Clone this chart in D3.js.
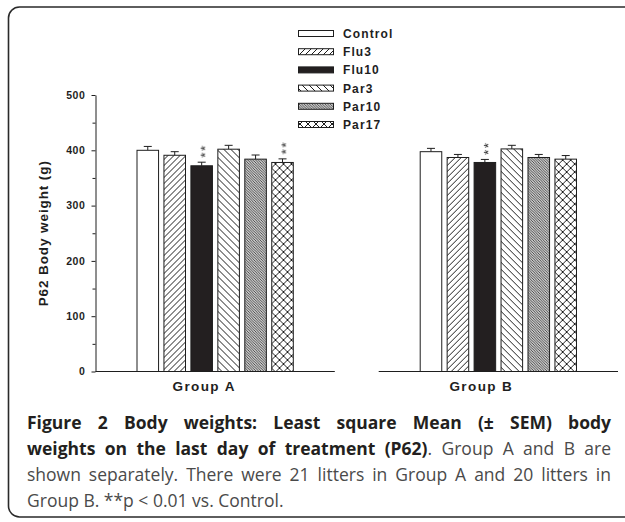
<!DOCTYPE html>
<html>
<head>
<meta charset="utf-8">
<script src="https://cdn.jsdelivr.net/npm/d3@7"></script>
<style>
  html, body { margin: 0; padding: 0; background: #fff; }
  svg { display: block; }
</style>
</head>
<body>
<svg id="chart" width="625" height="522"></svg>
<script>
// ---------- data ----------
const groups = ["Group A", "Group B"];
const series = ["Control", "Flu3", "Flu10", "Par3", "Par10", "Par17"];
const meansA = [400, 391, 372, 402, 384, 378];
const semA   = [7, 6.5, 6.5, 7, 7.5, 6.5];
const meansB = [397.5, 387, 378, 402.5, 387, 384];
const semB   = [6, 5.5, 5.5, 6.5, 5.5, 6.5];
const sigA   = [false, false, true, false, false, true];
const sigB   = [false, false, true, false, false, false];
const yTicks = [0, 100, 200, 300, 400, 500];
const yMinorTicks = [50, 150, 250, 350, 450];
const yLabel = "P62 Body weight (g)";
const captionLines = [
  [{ t: "Figure 2 Body weights: Least square Mean (± SEM) body", b: true }],
  [{ t: "weights on the last day of treatment (P62)", b: true }, { t: ". Group A and B are", b: false }],
  [{ t: "shown separately. There were 21 litters in Group A and 20 litters in", b: false }],
  [{ t: "Group B. **p < 0.01 vs. Control.", b: false }]
];
const captionJustify = [true, true, true, false];

const groupData = [
  { g: groups[0], means: meansA, sem: semA, sig: sigA },
  { g: groups[1], means: meansB, sem: semB, sig: sigB }
];

// ---------- setup ----------
const svg = d3.select("#chart");
svg.append("rect").attr("width", 625).attr("height", 522).attr("fill", "#fff");

// outer rounded frame (right side runs off the picture)
svg.append("rect")
  .attr("x", 8.5).attr("y", 7).attr("width", 640).attr("height", 510)
  .attr("rx", 11).attr("ry", 11)
  .attr("fill", "none").attr("stroke", "#2a2a2a").attr("stroke-width", 1.6);

const chartFont = "'Liberation Sans', Arial, sans-serif";
const ink = "#1e1e1e";

// patterns + a neutral filter (forces grayscale text antialiasing)
const defs = svg.append("defs");
const flt = defs.append("filter").attr("id", "gray").attr("x", "-50%").attr("y", "-50%")
  .attr("width", "200%").attr("height", "200%");
flt.append("feColorMatrix").attr("type", "saturate").attr("values", 0);

function linePattern(id, size, dir, sw, color) {
  const p = defs.append("pattern").attr("id", id)
    .attr("patternUnits", "userSpaceOnUse").attr("width", size).attr("height", size);
  p.append("rect").attr("width", size).attr("height", size).attr("fill", "#fff");
  const s = size;
  let d;
  if (dir === "/") d = `M${-s / 2},${s / 2} L${s / 2},${-s / 2} M0,${s} L${s},0 M${s / 2},${1.5 * s} L${1.5 * s},${s / 2}`;
  else if (dir === "\\") d = `M${-s / 2},${s / 2} L${s / 2},${1.5 * s} M0,0 L${s},${s} M${s / 2},${-s / 2} L${1.5 * s},${s / 2}`;
  else d = `M0,${s} L${s},0 M${-s / 2},${s / 2} L${s / 2},${-s / 2} M${s / 2},${1.5 * s} L${1.5 * s},${s / 2} M0,0 L${s},${s} M${-s / 2},${s / 2} L${s / 2},${1.5 * s} M${s / 2},${-s / 2} L${1.5 * s},${s / 2}`;
  p.append("path").attr("d", d).attr("stroke", color).attr("stroke-width", sw).attr("fill", "none");
  return `url(#${id})`;
}
const fills = {
  Control: "#fff",
  Flu3: linePattern("pFlu3", 6, "/", 1, ink),
  Flu10: "#231f20",
  Par3: linePattern("pPar3", 7, "\\", 1, ink),
  Par10: linePattern("pPar10", 2.6, "\\", 0.9, "#333"),
  Par17: linePattern("pPar17", 8, "x", 1, ink)
};

// ---------- scales ----------
const y = d3.scaleLinear().domain([0, 500]).range([371.5, 95]);
const x0 = d3.scaleBand().domain(groups).range([95.5, 618]).paddingInner(0.155);
const x1 = d3.scaleBand().domain(series).range([0, x0.bandwidth()])
  .paddingInner(0.2).paddingOuter(1.54);

// ---------- y axis ----------
const yAxis = d3.axisLeft(y).tickValues(yTicks).tickSize(4).tickSizeOuter(0).tickPadding(6);
const gy = svg.append("g").attr("transform", `translate(${x0.range()[0]},0)`).call(yAxis);
gy.selectAll("text").attr("font-family", chartFont).attr("font-weight", "bold")
  .attr("font-size", 10.5).attr("letter-spacing", 0.6).attr("fill", ink);
gy.selectAll("line, path").attr("stroke", ink).attr("stroke-width", 1);
const gyMinor = svg.append("g").attr("transform", `translate(${x0.range()[0]},0)`)
  .call(d3.axisLeft(y).tickValues(yMinorTicks).tickSize(3).tickSizeOuter(0).tickFormat(""));
gyMinor.select(".domain").remove();
gyMinor.selectAll("line").attr("stroke", ink);

svg.append("text")
  .attr("transform", `translate(48,${(y(0) + y(500)) / 2}) rotate(-90)`)
  .attr("text-anchor", "middle")
  .attr("font-family", chartFont).attr("font-weight", "bold").attr("font-size", 13.5)
  .attr("letter-spacing", 0.9).attr("fill", ink)
  .text(yLabel);

// ---------- x axis segments (broken baseline) ----------
const labelShift = { "Group A": -11, "Group B": -17 };
groupData.forEach(gd => {
  const gx = x0(gd.g);
  svg.append("line")
    .attr("x1", gx).attr("x2", gx + x0.bandwidth())
    .attr("y1", y(0)).attr("y2", y(0))
    .attr("stroke", ink).attr("stroke-width", 1.2);
  svg.append("text")
    .attr("x", gx + x0.bandwidth() / 2 + labelShift[gd.g]).attr("y", 391)
    .attr("text-anchor", "middle")
    .attr("font-family", chartFont).attr("font-weight", "bold").attr("font-size", 13.5)
    .attr("letter-spacing", 1.4).attr("fill", ink)
    .text(gd.g);
});

// ---------- bars ----------
groupData.forEach(gd => {
  const g = svg.append("g").attr("transform", `translate(${x0(gd.g)},0)`);
  const rows = series.map((s, i) => ({ s, v: gd.means[i], e: gd.sem[i], sig: gd.sig[i] }));
  rows.forEach(r => {
    const cx = x1(r.s) + x1.bandwidth() / 2;
    g.append("line").attr("x1", cx).attr("x2", cx)
      .attr("y1", y(r.v)).attr("y2", y(r.v + r.e))
      .attr("stroke", ink).attr("stroke-width", 1);
    g.append("line").attr("x1", cx - 4).attr("x2", cx + 4)
      .attr("y1", y(r.v + r.e)).attr("y2", y(r.v + r.e))
      .attr("stroke", ink).attr("stroke-width", 1);
    if (r.sig) {
      // "**" set vertically (rotated), reading upward from just above the cap
      g.append("text")
        .attr("filter", "url(#gray)")
        .attr("transform", `translate(${cx},${y(r.v + r.e) - 4.5}) rotate(-90)`)
        .attr("dy", "0.58em")
        .attr("font-family", chartFont).attr("font-size", 13.5)
        .attr("letter-spacing", 1.6)
        .attr("fill", "#222")
        .text("**");
    }
  });
  g.selectAll("rect.bar").data(rows).join("rect")
    .attr("class", "bar")
    .attr("x", d => x1(d.s)).attr("width", x1.bandwidth())
    .attr("y", d => y(d.v)).attr("height", d => y(0) - y(d.v))
    .attr("fill", d => fills[d.s])
    .attr("stroke", ink).attr("stroke-width", 1);
});

// ---------- legend ----------
const legY = d3.scalePoint().domain(series).range([33.5, 124.5]);
const leg = svg.append("g");
series.forEach(s => {
  leg.append("rect")
    .attr("x", 298.5).attr("y", legY(s) - 3).attr("width", 35).attr("height", 6)
    .attr("fill", fills[s]).attr("stroke", ink).attr("stroke-width", 1);
  leg.append("text")
    .attr("x", 343).attr("y", legY(s) + 4.5)
    .attr("font-family", chartFont).attr("font-weight", "bold").attr("font-size", 12)
    .attr("letter-spacing", 1.1).attr("fill", ink)
    .text(s);
});

// ---------- caption ----------
const capFont = "'Open Sans', 'Noto Sans', sans-serif";
const capLeft = 27, capRight = 611;
const capBase = [429, 455, 481, 507];
let capSize = 17.5;
const capNodes = captionLines.map((line, i) => {
  const t = svg.append("text").attr("x", capLeft).attr("y", capBase[i])
    .attr("font-family", capFont).attr("font-size", capSize);
  line.forEach(seg => {
    t.append("tspan").attr("font-weight", seg.b ? "bold" : "normal")
      .attr("fill", seg.b ? "#231f20" : "#4a4a4a").text(seg.t);
  });
  return t;
});
let maxW = d3.max(capNodes, n => n.node().getComputedTextLength());
if (maxW > capRight - capLeft) {
  capSize = capSize * (capRight - capLeft) / maxW * 0.995;
  capNodes.forEach(n => n.attr("font-size", capSize));
}
capNodes.forEach((n, i) => {
  if (!captionJustify[i]) return;
  const w = n.node().getComputedTextLength();
  const txt = captionLines[i].map(s => s.t).join("");
  const spaces = (txt.match(/ /g) || []).length;
  const extra = (capRight - capLeft - w) / spaces;
  n.attr("word-spacing", extra);
});
</script>
</body>
</html>
